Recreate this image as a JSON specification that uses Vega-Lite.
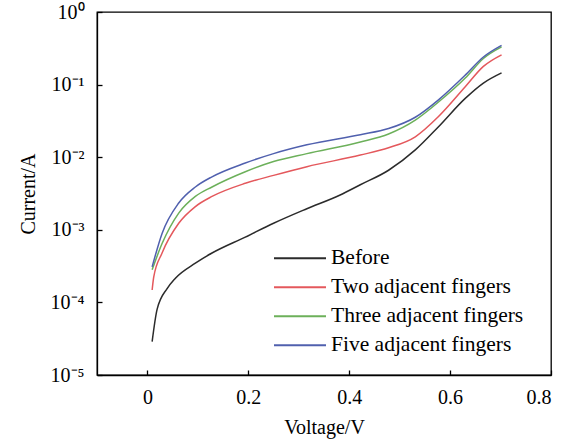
{
  "$schema": "https://vega.github.io/schema/vega-lite/v6.json",
  "width": 454,
  "height": 363,
  "autosize": {"type": "none"},
  "padding": {"left": 97, "top": 12, "right": 25, "bottom": 70},
  "background": "white",
  "config": {
    "view": {"stroke": "#000", "strokeWidth": 1.3},
    "font": "Liberation Serif",
    "axis": {
      "grid": false,
      "domainColor": "#000",
      "domainWidth": 1.3,
      "tickColor": "#000",
      "tickWidth": 1.3,
      "labelColor": "#000",
      "titleColor": "#000",
      "labelFont": "Liberation Serif",
      "titleFont": "Liberation Serif",
      "labelFontSize": 20,
      "titleFontSize": 20,
      "titleFontWeight": "normal"
    }
  },
  "data": {
    "values": [
      {"s": "Before", "V": 0.0093, "I": 2.88e-5},
      {"s": "Before", "V": 0.019, "I": 7.94e-5},
      {"s": "Before", "V": 0.039, "I": 1.55e-4},
      {"s": "Before", "V": 0.055, "I": 2.14e-4},
      {"s": "Before", "V": 0.095, "I": 3.47e-4},
      {"s": "Before", "V": 0.128, "I": 4.79e-4},
      {"s": "Before", "V": 0.194, "I": 7.94e-4},
      {"s": "Before", "V": 0.25, "I": 1.23e-3},
      {"s": "Before", "V": 0.316, "I": 1.95e-3},
      {"s": "Before", "V": 0.382, "I": 3.02e-3},
      {"s": "Before", "V": 0.422, "I": 4.17e-3},
      {"s": "Before", "V": 0.478, "I": 6.61e-3},
      {"s": "Before", "V": 0.531, "I": 0.0126},
      {"s": "Before", "V": 0.577, "I": 0.0263},
      {"s": "Before", "V": 0.63, "I": 0.0646},
      {"s": "Before", "V": 0.666, "I": 0.105},
      {"s": "Before", "V": 0.702, "I": 0.145},
      {"s": "Two adjacent fingers", "V": 0.0093, "I": 1.48e-4},
      {"s": "Two adjacent fingers", "V": 0.0125, "I": 2.24e-4},
      {"s": "Two adjacent fingers", "V": 0.029, "I": 4.79e-4},
      {"s": "Two adjacent fingers", "V": 0.062, "I": 1.23e-3},
      {"s": "Two adjacent fingers", "V": 0.095, "I": 2.09e-3},
      {"s": "Two adjacent fingers", "V": 0.128, "I": 2.88e-3},
      {"s": "Two adjacent fingers", "V": 0.194, "I": 4.37e-3},
      {"s": "Two adjacent fingers", "V": 0.25, "I": 5.62e-3},
      {"s": "Two adjacent fingers", "V": 0.316, "I": 7.41e-3},
      {"s": "Two adjacent fingers", "V": 0.422, "I": 0.0107},
      {"s": "Two adjacent fingers", "V": 0.478, "I": 0.0135},
      {"s": "Two adjacent fingers", "V": 0.531, "I": 0.0191},
      {"s": "Two adjacent fingers", "V": 0.577, "I": 0.0363},
      {"s": "Two adjacent fingers", "V": 0.63, "I": 0.0933},
      {"s": "Two adjacent fingers", "V": 0.666, "I": 0.178},
      {"s": "Two adjacent fingers", "V": 0.702, "I": 0.257},
      {"s": "Three adjacent fingers", "V": 0.0093, "I": 2.82e-4},
      {"s": "Three adjacent fingers", "V": 0.029, "I": 6.46e-4},
      {"s": "Three adjacent fingers", "V": 0.062, "I": 1.7e-3},
      {"s": "Three adjacent fingers", "V": 0.095, "I": 2.88e-3},
      {"s": "Three adjacent fingers", "V": 0.128, "I": 3.89e-3},
      {"s": "Three adjacent fingers", "V": 0.194, "I": 6.31e-3},
      {"s": "Three adjacent fingers", "V": 0.25, "I": 8.71e-3},
      {"s": "Three adjacent fingers", "V": 0.316, "I": 0.0112},
      {"s": "Three adjacent fingers", "V": 0.422, "I": 0.0162},
      {"s": "Three adjacent fingers", "V": 0.478, "I": 0.0209},
      {"s": "Three adjacent fingers", "V": 0.531, "I": 0.0324},
      {"s": "Three adjacent fingers", "V": 0.577, "I": 0.0575},
      {"s": "Three adjacent fingers", "V": 0.63, "I": 0.123},
      {"s": "Three adjacent fingers", "V": 0.666, "I": 0.229},
      {"s": "Three adjacent fingers", "V": 0.702, "I": 0.331},
      {"s": "Five adjacent fingers", "V": 0.0093, "I": 3.09e-4},
      {"s": "Five adjacent fingers", "V": 0.029, "I": 8.91e-4},
      {"s": "Five adjacent fingers", "V": 0.062, "I": 2.34e-3},
      {"s": "Five adjacent fingers", "V": 0.095, "I": 3.89e-3},
      {"s": "Five adjacent fingers", "V": 0.128, "I": 5.37e-3},
      {"s": "Five adjacent fingers", "V": 0.194, "I": 8.32e-3},
      {"s": "Five adjacent fingers", "V": 0.25, "I": 0.0112},
      {"s": "Five adjacent fingers", "V": 0.316, "I": 0.0148},
      {"s": "Five adjacent fingers", "V": 0.422, "I": 0.0204},
      {"s": "Five adjacent fingers", "V": 0.478, "I": 0.0248},
      {"s": "Five adjacent fingers", "V": 0.531, "I": 0.0355},
      {"s": "Five adjacent fingers", "V": 0.577, "I": 0.0617},
      {"s": "Five adjacent fingers", "V": 0.63, "I": 0.135},
      {"s": "Five adjacent fingers", "V": 0.666, "I": 0.24},
      {"s": "Five adjacent fingers", "V": 0.702, "I": 0.347}
    ]
  },
  "mark": {"type": "line", "interpolate": "monotone", "strokeWidth": 1.5},
  "encoding": {
    "x": {
      "field": "V",
      "type": "quantitative",
      "scale": {"domain": [-0.1, 0.8], "nice": false, "zero": false},
      "axis": {
        "title": "Voltage/V",
        "values": [0, 0.2, 0.4, 0.6, 0.8],
        "format": "~g",
        "tickSize": -5,
        "labelPadding": 17,
        "titlePadding": 10
      }
    },
    "y": {
      "field": "I",
      "type": "quantitative",
      "scale": {"type": "log", "domain": [1e-5, 1], "nice": false},
      "axis": {
        "title": "Current/A",
        "values": [1e-5, 1e-4, 1e-3, 1e-2, 1e-1, 1],
        "labelExpr": "datum.value > 0.5 ? '10⁰' : datum.value > 0.05 ? '10⁻¹' : datum.value > 0.005 ? '10⁻²' : datum.value > 0.0005 ? '10⁻³' : datum.value > 0.00005 ? '10⁻⁴' : '10⁻⁵'",
        "tickSize": -5,
        "labelPadding": 18,
        "titlePadding": 12
      }
    },
    "color": {
      "field": "s",
      "type": "nominal",
      "sort": null,
      "scale": {
        "domain": ["Before", "Two adjacent fingers", "Three adjacent fingers", "Five adjacent fingers"],
        "range": ["#2b2b2b", "#e4585c", "#6cb05a", "#5060ae"]
      },
      "legend": {
        "title": null,
        "orient": "none",
        "legendX": 176,
        "legendY": 232,
        "symbolType": "M-1,0H1",
        "symbolSize": 2704,
        "symbolStrokeWidth": 2,
        "clipHeight": 28.5,
        "rowPadding": 0,
        "labelOffset": 4,
        "labelFontSize": 21.5,
        "labelFont": "Liberation Serif",
        "labelColor": "#000",
        "labelLimit": 300
      }
    }
  }
}
